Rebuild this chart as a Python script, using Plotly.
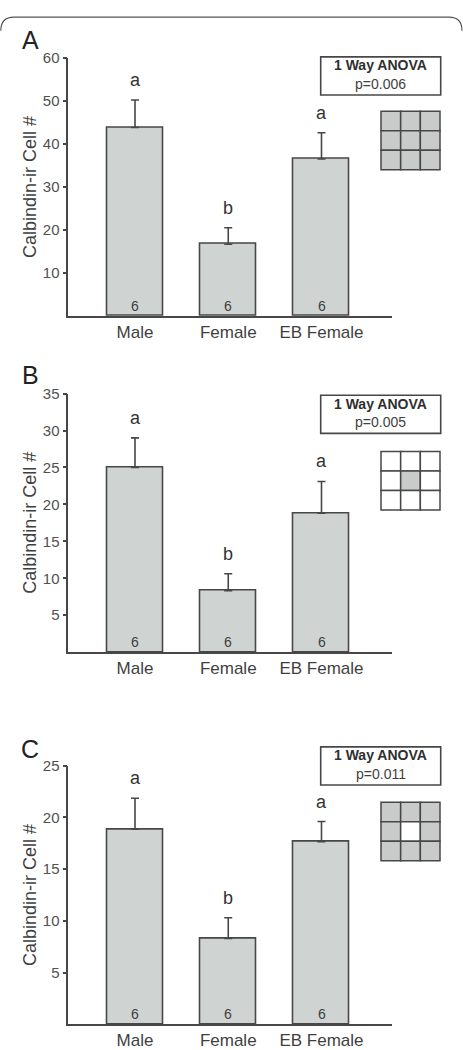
import plotly.graph_objects as go

W, H = 463, 1050

categories = ["Male", "Female", "EB Female"]
n_per_group = [6, 6, 6]

means_A = [43.8, 16.7, 36.5]
sem_A = [6.4, 3.8, 6.1]
letters_A = ["a", "b", "a"]
p_A = "p=0.006"
icon_A = [[1, 1, 1], [1, 1, 1], [1, 1, 1]]
yticks_A = [10, 20, 30, 40, 50, 60]

means_B = [25.0, 8.3, 18.8]
sem_B = [4.0, 2.3, 4.3]
letters_B = ["a", "b", "a"]
p_B = "p=0.005"
icon_B = [[0, 0, 0], [0, 1, 0], [0, 0, 0]]
yticks_B = [5, 10, 15, 20, 25, 30, 35]

means_C = [18.85, 8.3, 17.65]
sem_C = [3.0, 2.0, 1.95]
letters_C = ["a", "b", "a"]
p_C = "p=0.011"
icon_C = [[1, 1, 1], [1, 0, 1], [1, 1, 1]]
yticks_C = [5, 10, 15, 20, 25]

FONT = "Liberation Sans, Arial, sans-serif"
DARK = "#474747"
TXT = "#3f3f3f"
BAR = "#cfd4d2"
ICON = "#c9cbcb"


def px(x):
    return x / W


def py(y):
    return 1 - y / H


panels = [
    dict(label="A", means=means_A, sem=sem_A, letters=letters_A, p=p_A, icon=icon_A,
         yticks=yticks_A, top=49.3, base=310.0, lab_y=31.7, box_top=48.3, icon_top=103.3),
    dict(label="B", means=means_B, sem=sem_B, letters=letters_B, p=p_B, icon=icon_B,
         yticks=yticks_B, top=388.3, base=649.3, lab_y=369.3, box_top=390.0, icon_top=446.7),
    dict(label="C", means=means_C, sem=sem_C, letters=letters_C, p=p_C, icon=icon_C,
         yticks=yticks_C, top=764.0, base=1025.0, lab_y=747.3, box_top=745.0, icon_top=801.0),
]

fig = go.Figure()
annotations = []
shapes = []

x_left, x_right = 68.3, 391.7
xpos = list(range(len(categories)))
spacing = 93.25
r0 = -(135.0 - x_left) / spacing
r1 = r0 + (x_right - x_left) / spacing

for i, pn in enumerate(panels):
    k = "" if i == 0 else str(i + 1)
    xa, ya = "x" + k, "y" + k
    fig.add_trace(go.Bar(
        x=xpos, y=pn["means"], width=0.6, xaxis=xa, yaxis=ya,
        marker=dict(color=BAR, line=dict(color=DARK, width=1.6)),
        error_y=dict(type="data", symmetric=False, array=pn["sem"],
                     arrayminus=[0] * len(pn["sem"]), color=DARK, thickness=1.6, width=4),
        showlegend=False, hoverinfo="skip",
    ))
    ymax = max(pn["yticks"])
    fig.layout["xaxis" + k] = dict(
        domain=[px(x_left), px(x_right)], range=[r0, r1], anchor=ya,
        tickvals=xpos, ticktext=categories, showline=True, linecolor=DARK, linewidth=1.6,
        ticks="", tickfont=dict(family=FONT, size=17, color=TXT), showgrid=False,
        zeroline=False, fixedrange=True,
    )
    fig.layout["yaxis" + k] = dict(
        domain=[py(pn["base"]), py(pn["top"])], range=[0, ymax], anchor=xa,
        tickvals=pn["yticks"], showline=True, linecolor=DARK, linewidth=1.6,
        ticks="outside", ticklen=4, tickwidth=1.5, tickcolor=DARK,
        tickfont=dict(family=FONT, size=15, color="#505050"), showgrid=False,
        zeroline=False, fixedrange=True,
    )
    # significance letters and n
    for j in range(len(categories)):
        annotations.append(dict(
            x=xpos[j], y=pn["means"][j] + pn["sem"][j], xref=xa, yref=ya,
            text=pn["letters"][j], showarrow=False, yanchor="middle", yshift=20,
            font=dict(family=FONT, size=18, color="#333333"),
        ))
        annotations.append(dict(
            x=xpos[j], y=0, xref=xa, yref=ya, text=str(n_per_group[j]), showarrow=False,
            yanchor="middle", yshift=10, font=dict(family=FONT, size=14, color=TXT),
        ))
    # panel letter
    annotations.append(dict(
        x=px(30), y=py(pn["lab_y"]), xref="paper", yref="paper", text=pn["label"],
        showarrow=False, xanchor="center", yanchor="middle",
        font=dict(family=FONT, size=25, color="#222222"),
    ))
    # y-axis title
    annotations.append(dict(
        x=px(30), y=py((pn["top"] + pn["base"]) / 2), xref="paper", yref="paper",
        text="Calbindin-ir Cell #", textangle=-90, showarrow=False,
        xanchor="center", yanchor="middle", font=dict(family=FONT, size=18, color=TXT),
    ))
    # ANOVA box
    bt = pn["box_top"]
    shapes.append(dict(type="rect", xref="paper", yref="paper",
                       x0=px(320.7), x1=px(440.7), y0=py(bt + 38.5), y1=py(bt),
                       line=dict(color=DARK, width=1.6), fillcolor="white"))
    annotations.append(dict(
        x=px(380.7), y=py(bt + 8.6), xref="paper", yref="paper", text="<b>1 Way ANOVA</b>",
        showarrow=False, xanchor="center", yanchor="middle",
        font=dict(family=FONT, size=14, color="#2f2f2f"),
    ))
    annotations.append(dict(
        x=px(380.7), y=py(bt + 27), xref="paper", yref="paper", text=pn["p"],
        showarrow=False, xanchor="center", yanchor="middle",
        font=dict(family=FONT, size=14, color=TXT),
    ))
    # icon grid
    cell = 59.0 / 3
    for r in range(3):
        for c in range(3):
            x0 = 381 + c * cell
            y0 = pn["icon_top"] + r * cell
            shapes.append(dict(
                type="rect", xref="paper", yref="paper",
                x0=px(x0), x1=px(x0 + cell), y0=py(y0 + cell), y1=py(y0),
                line=dict(color=DARK, width=1.5),
                fillcolor=ICON if pn["icon"][r][c] else "white",
            ))

# rounded top frame
frame = (f"M {px(0.8)},{py(22)} Q {px(0.8)},{py(8.3)} {px(14)},{py(8.3)} "
         f"L {px(449)},{py(8.3)} Q {px(462)},{py(8.3)} {px(462)},{py(22)}")
shapes.append(dict(type="path", xref="paper", yref="paper", path=frame,
                   line=dict(color="#555555", width=1.2)))

fig.update_layout(
    width=W, height=H, margin=dict(l=0, r=0, t=0, b=0),
    paper_bgcolor="white", plot_bgcolor="white",
    annotations=annotations, shapes=shapes, showlegend=False, bargap=0,
)

fig.write_html("out.html", config={"displayModeBar": False})
